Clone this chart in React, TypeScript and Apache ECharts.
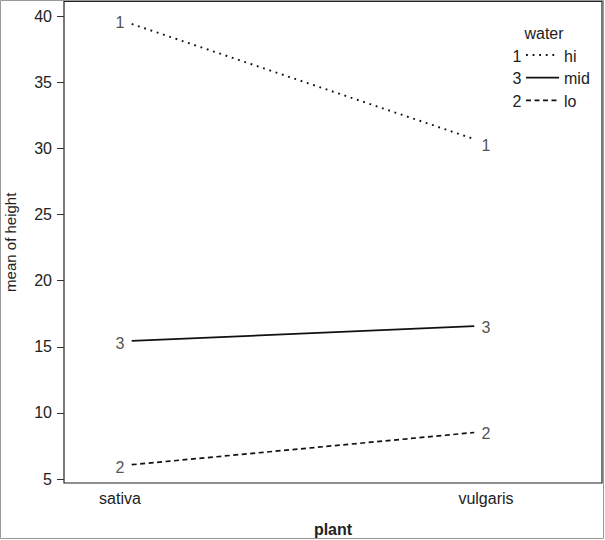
import React, { useEffect, useRef } from "react";
import * as echarts from "echarts";

const plants = ["sativa", "vulgaris"];
const waterLevels = ["hi", "mid", "lo"];
const levelCodes = ["1", "3", "2"];
const hiMeans = [39.7, 30.4];
const midMeans = [15.4, 16.6];
const loMeans = [6.0, 8.6];
const yTicks = [5, 10, 15, 20, 25, 30, 35, 40];

const FONT = "'Liberation Sans', Arial, sans-serif";
const TEXT = "#222";
const dashes: Record<string, any> = {
  hi: [1.8, 4.8],
  mid: "solid",
  lo: [5, 3.5],
};
const widths: Record<string, number> = { hi: 1.9, mid: 1.7, lo: 1.7 };

export default function App() {
  const ref = useRef<HTMLDivElement>(null);
  useEffect(() => {
    if (!ref.current) return;
    const chart = echarts.init(ref.current, null, { renderer: "svg" });
    const allMeans = [hiMeans, midMeans, loMeans];
    const g = 0.032;
    const series: any[] = [];
    waterLevels.forEach((lvl, i) => {
      const v = allMeans[i];
      const d = v[1] - v[0];
      series.push({
        type: "line",
        name: lvl,
        data: [
          [1 + g, v[0] + d * g],
          [2 - g, v[1] - d * g],
        ],
        symbol: "none",
        lineStyle: { color: "#111", width: widths[lvl], type: dashes[lvl] },
        silent: true,
      });
      series.push({
        type: "scatter",
        name: lvl + "-pts",
        data: v.map((y, j) => [j + 1, y]),
        symbolSize: 1,
        itemStyle: { color: "transparent" },
        label: {
          show: true,
          position: "inside",
          formatter: () => levelCodes[i],
          color: TEXT,
          fontFamily: FONT,
          fontSize: 16,
          offset: [0, 2],
        },
        silent: true,
      });
    });

    const legendGraphics: any[] = [
      {
        type: "text",
        x: 544,
        y: 33,
        style: { text: "water", font: `16px ${FONT}`, fill: TEXT, align: "center", verticalAlign: "middle" },
      },
    ];
    waterLevels.forEach((lvl, i) => {
      const y = 55 + i * 22.7;
      legendGraphics.push(
        {
          type: "text",
          x: 517,
          y: y + 1,
          style: { text: levelCodes[i], font: `16px ${FONT}`, fill: TEXT, align: "center", verticalAlign: "middle" },
        },
        {
          type: "line",
          shape: { x1: 526, y1: y, x2: 559, y2: y },
          style: { stroke: "#111", lineWidth: widths[lvl], lineDash: dashes[lvl] === "solid" ? null : dashes[lvl] },
        },
        {
          type: "text",
          x: 564,
          y: y + 1,
          style: { text: lvl, font: `16px ${FONT}`, fill: TEXT, align: "left", verticalAlign: "middle" },
        }
      );
    });
    legendGraphics.push({
      type: "rect",
      shape: { x: 0.5, y: 0.5, width: 603, height: 538 },
      style: { fill: "none", stroke: "#999", lineWidth: 1 },
      silent: true,
    });

    chart.setOption({
      animation: false,
      backgroundColor: "#fff",
      grid: {
        left: 64,
        top: 1.5,
        right: 3,
        bottom: 57,
        containLabel: false,
        outerBoundsMode: "none",
        show: true,
        borderColor: "#222",
        borderWidth: 1.2,
        backgroundColor: "transparent",
      },
      xAxis: {
        type: "value",
        min: 0.847,
        max: 2.317,
        name: "plant",
        nameLocation: "middle",
        nameGap: 38,
        nameTextStyle: { fontFamily: FONT, fontSize: 16, fontWeight: "bold", color: TEXT },
        axisLine: { show: false },
        axisTick: { show: false },
        splitLine: { show: false },
        axisLabel: {
          customValues: [1, 2],
          formatter: (val: number) => plants[Math.round(val) - 1] ?? "",
          fontFamily: FONT,
          fontSize: 16,
          color: TEXT,
          margin: 7,
        },
      },
      yAxis: {
        type: "value",
        min: 4.7,
        max: 41.1,
        name: "mean of height",
        nameLocation: "middle",
        nameGap: 46,
        nameTextStyle: { fontFamily: FONT, fontSize: 15, color: TEXT },
        axisLine: { show: false },
        splitLine: { show: false },
        axisTick: {
          show: true,
          customValues: yTicks,
          length: 7,
          lineStyle: { color: "#333", width: 1 },
        },
        axisLabel: {
          customValues: yTicks,
          fontFamily: FONT,
          fontSize: 16,
          color: TEXT,
          margin: 12,
        },
      },
      graphic: legendGraphics,
      series,
    });
    return () => chart.dispose();
  }, []);
  return (
    <div
      ref={ref}
      style={{ position: "fixed", left: 0, top: 0, width: 605, height: 540 }}
    />
  );
}
